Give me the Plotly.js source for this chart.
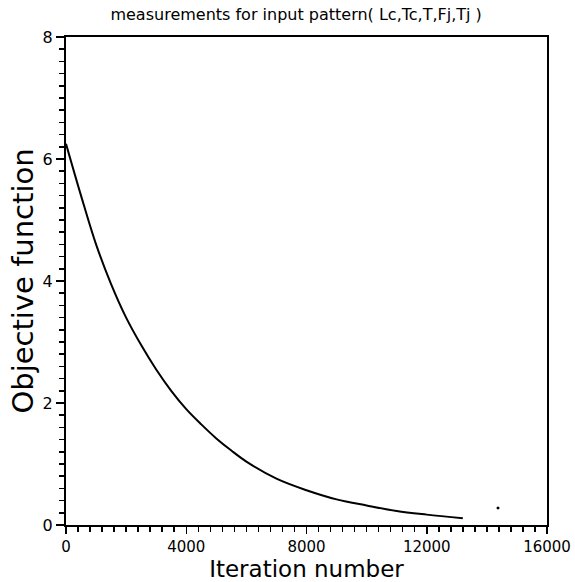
<!DOCTYPE html>
<html>
<head>
<meta charset="utf-8">
<script src="https://cdn.plot.ly/plotly-3.0.1.min.js"></script>
<style>html,body{margin:0;padding:0;background:#fff;}</style>
</head>
<body>
<div id="chart" style="width:575px;height:582px;"></div>
<script>
const iterations = [0, 500, 1000, 1500, 2000, 2500, 3000, 3500, 4000, 4500, 5000, 5500, 6000, 7000, 8000, 9000, 10000, 11000, 12000, 13200];
const objective = [6.25, 5.4, 4.6, 3.95, 3.4, 2.95, 2.55, 2.2, 1.9, 1.65, 1.42, 1.22, 1.04, 0.76, 0.57, 0.42, 0.32, 0.23, 0.17, 0.11];
const dotX = [14370];
const dotY = [0.28];
const xTicks = [0, 4000, 8000, 12000, 16000];
const yTicks = [0, 2, 4, 6, 8];

const font = "DejaVu Sans, sans-serif";
const traces = [
  {x: iterations, y: objective, mode: 'lines', line: {color: '#000', width: 2, shape: 'spline'}, hoverinfo: 'skip'},
  {x: dotX, y: dotY, mode: 'markers', marker: {color: '#000', size: 3}, hoverinfo: 'skip'}
];
const layout = {
  width: 575, height: 582,
  margin: {l: 66, r: 28, t: 37, b: 57},
  paper_bgcolor: '#fff', plot_bgcolor: '#fff',
  showlegend: false,
  title: {text: 'measurements for input pattern( Lc,Tc,T,Fj,Tj )', font: {family: font, size: 16, color: '#000'}, x: 0.515, xanchor: 'center', y: 0.976, yanchor: 'middle'},
  xaxis: {
    range: [0, 16000], tickvals: xTicks, ticktext: xTicks.map(String),
    ticks: 'outside', ticklen: 7, tickwidth: 1.5, tickcolor: '#000',
    minor: {dtick: 400, tick0: 0, ticks: 'outside', ticklen: 5, tickwidth: 1.5, tickcolor: '#000'},
    showline: true, linecolor: '#000', linewidth: 2, mirror: true,
    showgrid: false, zeroline: false,
    tickfont: {family: font, size: 15, color: '#000'},
    title: {text: 'Iteration number', font: {family: font, size: 23, color: '#000'}, standoff: 2}
  },
  yaxis: {
    range: [0, 8], tickvals: yTicks, ticktext: yTicks.map(String),
    ticks: 'outside', ticklen: 8, tickwidth: 1.5, tickcolor: '#000',
    minor: {dtick: 0.2, tick0: 0, ticks: 'outside', ticklen: 5, tickwidth: 1.5, tickcolor: '#000'},
    showline: true, linecolor: '#000', linewidth: 2, mirror: true,
    showgrid: false, zeroline: false,
    tickfont: {family: font, size: 16, color: '#000'},
    title: {text: 'Objective function', font: {family: font, size: 29, color: '#000'}, standoff: 0}
  }
};
Plotly.newPlot('chart', traces, layout, {staticPlot: true, displayModeBar: false});
</script>
</body>
</html>
